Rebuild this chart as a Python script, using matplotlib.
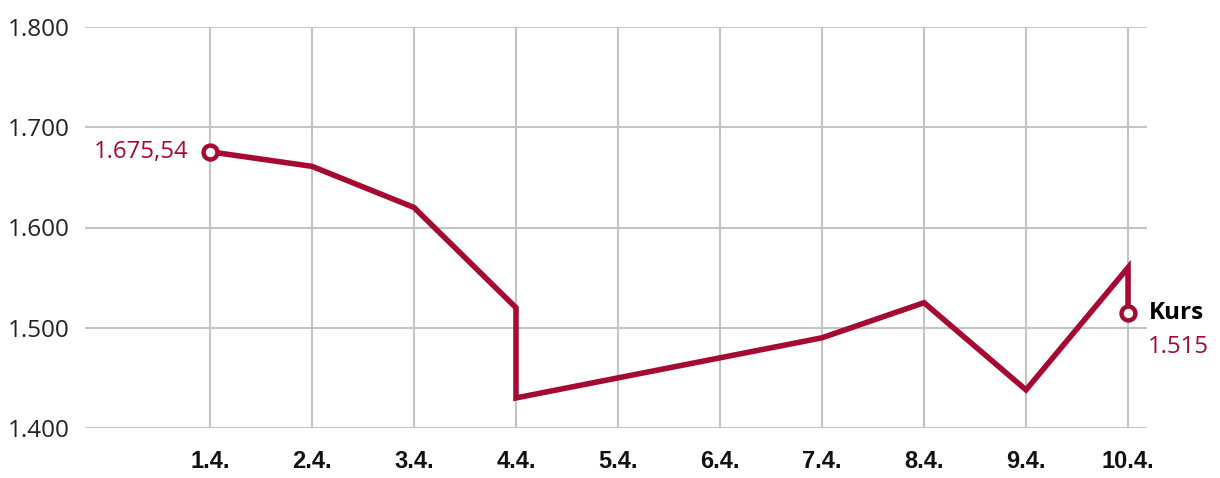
import matplotlib.pyplot as plt

tage = ["1.4.", "2.4.", "3.4.", "4.4.", "5.4.", "6.4.", "7.4.", "8.4.", "9.4.", "10.4."]
# 4.4. und 10.4. haben je zwei Werte (senkrechter Sprung)
x_idx = [0, 1, 2, 3, 3, 4, 5, 6, 7, 8, 9, 9]
kurs = [1675.54, 1661, 1620, 1520, 1430, 1450, 1470, 1490, 1525, 1438, 1560, 1515]
y_ticks = [1400, 1500, 1600, 1700, 1800]
y_labels = ["1.400", "1.500", "1.600", "1.700", "1.800"]

rot = "#a50a32"
grau = "#c4c4c4"

fig = plt.figure(figsize=(12.2, 4.78), dpi=100)
ax = fig.add_axes([85 / 1220, 50 / 478, 1062 / 1220, 401 / 478])

ax.set_xlim(-1.225, 9.186)
ax.set_ylim(1400, 1800)

for i in range(len(tage)):
    ax.axvline(i, color=grau, lw=1.5, zorder=1)
for y in y_ticks:
    ax.axhline(y, color=grau, lw=1.5, zorder=1)

ax.plot(x_idx, kurs, color=rot, lw=4, solid_joinstyle="miter", zorder=3)
ax.plot([x_idx[0], x_idx[-1]], [kurs[0], kurs[-1]], ls="none", marker="o",
        ms=10, mfc="white", mec=rot, mew=3.2, zorder=4)

ax.text(x_idx[0] - 0.21, kurs[0], "1.675,54", color=rot, fontsize=17.3,
        family="Open Sans", ha="right", va="center")
ax.text(x_idx[-1] + 0.2, kurs[-1], "Kurs", color="black", fontsize=17.5,
        family="Open Sans", fontweight="bold", ha="left", va="center")
ax.text(x_idx[-1] + 0.19, kurs[-1] - 34, "1.515", color=rot, fontsize=17.3,
        family="Open Sans", ha="left", va="center")

ax.set_yticks(y_ticks)
ax.set_yticklabels(y_labels, family="Open Sans", fontsize=17.5, color="#222222")
ax.set_xticks(range(len(tage)))
ax.set_xticklabels(tage, family="Liberation Sans", fontweight="bold",
                   fontsize=17, color="#111111")
ax.tick_params(axis="y", length=0, pad=11)
ax.tick_params(axis="x", length=0, pad=16)

for s in ax.spines.values():
    s.set_visible(False)

fig.savefig("out.png", dpi=100)
